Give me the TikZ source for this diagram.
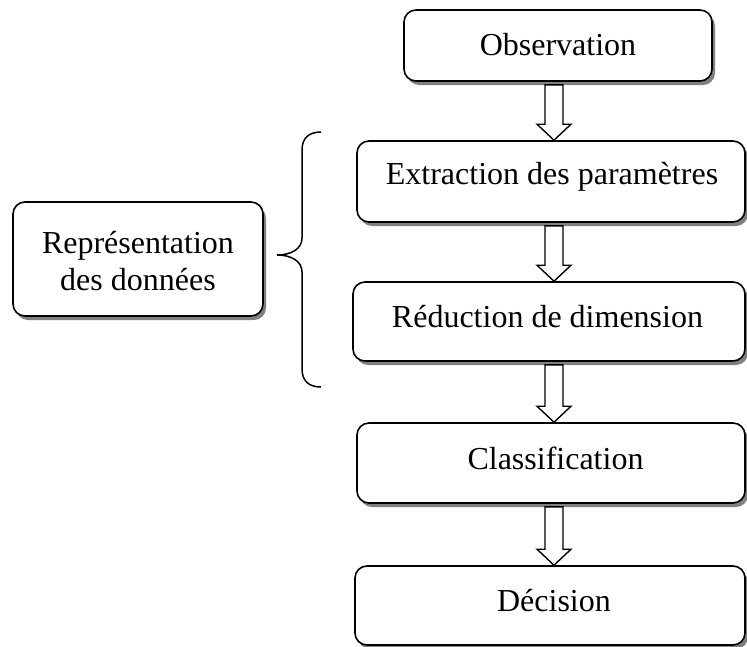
\documentclass[tikz,border=0pt]{standalone}
\usepackage{fontspec}
\setmainfont{Liberation Serif}
\usetikzlibrary{calc,shadows}

% hollow block arrow running from the bottom of one stage to the top of the next
\newcommand\flowarrow[2]{%
  \draw[blockarr] let \p1=(#1.south), \p2=(#2.north) in
    (545pt,\y1-3pt) -- (563pt,\y1-3pt) -- (563pt,\y2+16pt) -- (571pt,\y2+16pt)
    -- (554pt,\y2) -- (537pt,\y2+16pt) -- (545pt,\y2+16pt) -- cycle;}

\begin{document}
\begin{tikzpicture}[x=1pt,y=-1pt,
  stage/.style={draw=black, line width=1.6pt, rounded corners=12pt, fill=white,
    inner sep=0pt,
    drop shadow={shadow xshift=3pt, shadow yshift=-4pt, fill=black!50, opacity=1}},
  lbl/.style={font=\fontsize{32}{37}\selectfont, align=center, inner sep=0pt},
  blockarr/.style={draw=black, line width=1.4pt, fill=white, line join=miter},
  bracepath/.style={draw=black, line width=1.5pt}]

\useasboundingbox (0,0) rectangle (747,646);

% processing stages
\node[stage, minimum width=308pt, minimum height=71pt] (obs) at (558,45.5) {};
\node[lbl] (obst) at ([yshift=1pt]obs.center) {Observation};

\node[stage, minimum width=388pt, minimum height=81pt] (ext) at (551,181.5) {};
\node[lbl] (extt) at ([xshift=1pt,yshift=5pt]ext.center) {Extraction des paramètres};

\node[stage, minimum width=392pt, minimum height=79pt] (red) at (549,321.5) {};
\node[lbl] (redt) at ([xshift=-1.5pt,yshift=5pt]red.center) {Réduction de dimension};

\node[stage, minimum width=388pt, minimum height=80pt] (cls) at (551,463) {};
\node[lbl] (clst) at ([xshift=4.5pt,yshift=5pt]cls.center) {Classification};

\node[stage, minimum width=390pt, minimum height=79pt] (dec) at (550,605.5) {};
\node[lbl] (dect) at ([xshift=4pt,yshift=5pt]dec.center) {Décision};

% grouping label on the left
\node[stage, minimum width=250pt, minimum height=114pt] (rep) at (138,259) {};
\node[lbl] (rept) at ([yshift=-2pt]rep.center) {Représentation\\des données};

% arrows between stages
\flowarrow{obs}{ext}
\flowarrow{ext}{red}
\flowarrow{red}{cls}
\flowarrow{cls}{dec}

% curly brace grouping extraction and reduction
\draw[bracepath] (321,132) .. controls (309,132) and (302,138) .. (302,150)
  -- (302,238) .. controls (302,249) and (291,255) .. (277,255)
  .. controls (291,255) and (302,261) .. (302,272)
  -- (302,369) .. controls (302,381) and (309,387) .. (321,387);
\end{tikzpicture}
\end{document}
